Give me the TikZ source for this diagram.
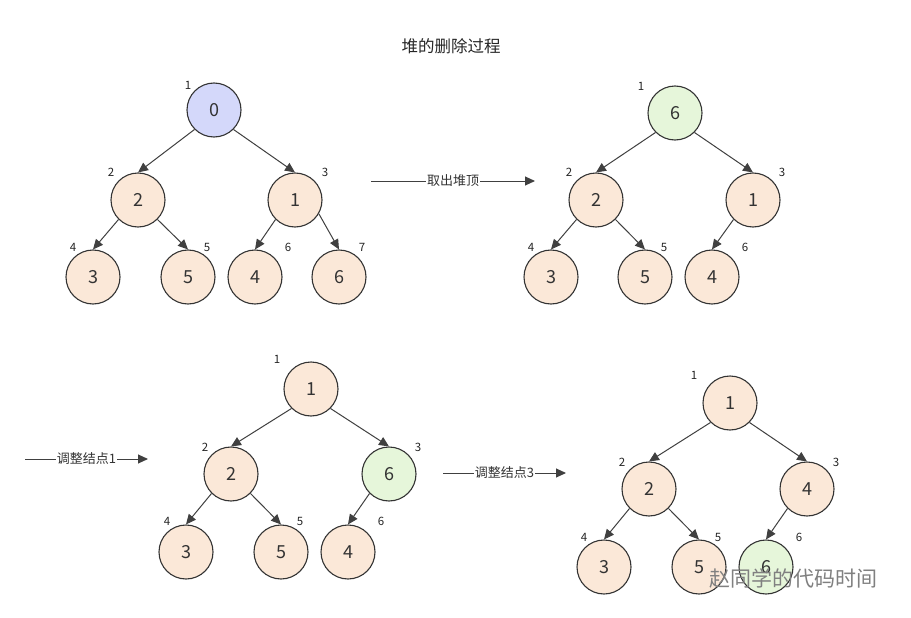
\documentclass[tikz,border=0pt]{standalone}
\usepackage{fontspec}
\setmainfont{Noto Sans CJK SC}
\usetikzlibrary{arrows.meta, positioning}
\definecolor{melocoton}{RGB}{251,232,216}
\definecolor{lavanda}{RGB}{212,216,250}
\definecolor{verdeclaro}{RGB}{230,246,218}
\tikzstyle{heapnode} = [circle, draw=black!80, fill=melocoton, minimum size=54pt, inner sep=0pt, line width=1.1pt, font=\fontsize{18}{21}\selectfont, text=black!80]
\tikzstyle{idx} = [font=\fontsize{11.5}{13}\selectfont, text=black!85, inner sep=0pt]
\tikzstyle{edge} = [draw=black!75, line width=1pt, -{Triangle[length=10pt,width=9pt]}]
\tikzstyle{paso} = [fill=white, inner sep=1pt, font=\fontsize{13}{15}\selectfont, text=black!80]

\begin{document}
\begin{tikzpicture}[x=1pt, y=-1pt]
	\useasboundingbox[fill=white] (0,0) rectangle (911,618);
	\node[font=\fontsize{16.5}{19}\selectfont, text=black!85] (titulo) at (451,46) {堆的删除过程};

	% arbol A: antes de borrar
	\node[heapnode, fill=lavanda] (a1) at (214,110) {0};
	\node[heapnode] (a2) at (138,200) {2};
	\node[heapnode] (a3) at (295,200) {1};
	\node[heapnode] (a4) at (93,277) {3};
	\node[heapnode] (a5) at (188,277) {5};
	\node[heapnode] (a6) at (255,277) {4};
	\node[heapnode] (a7) at (339,277) {6};
	\node[idx] at (188,85) {1};
	\node[idx] at (111,172) {2};
	\node[idx] at (325,172) {3};
	\node[idx] at (73,247) {4};
	\node[idx] at (207,247) {5};
	\node[idx] at (288,247) {6};
	\node[idx] at (362,247) {7};
	\draw[edge] (a1.south west) -- (a2.north);
	\draw[edge] (a1.south east) -- (a3.north);
	\draw[edge] (a2.south west) -- (a4.north);
	\draw[edge] (a2.south east) -- (a5.north);
	\draw[edge] (a3.south west) -- (a6.north);
	\draw[edge] (a3.-30) -- (a7.north);

	\coordinate (s1) at (371,181);
	\coordinate (e1) at (535,181);
	\draw[edge] (s1) -- node[paso] {取出堆顶} (e1);

	% arbol B: el ultimo sube a la raiz
	\node[heapnode, fill=verdeclaro] (b1) at (675,113) {6};
	\node[heapnode] (b2) at (596,200) {2};
	\node[heapnode] (b3) at (753,200) {1};
	\node[heapnode] (b4) at (551,277) {3};
	\node[heapnode] (b5) at (645,277) {5};
	\node[heapnode] (b6) at (712,277) {4};
	\node[idx] at (641,86) {1};
	\node[idx] at (569,172) {2};
	\node[idx] at (782,172) {3};
	\node[idx] at (531,247) {4};
	\node[idx] at (664,247) {5};
	\node[idx] at (745,247) {6};
	\draw[edge] (b1.south west) -- (b2.north);
	\draw[edge] (b1.south east) -- (b3.north);
	\draw[edge] (b2.south west) -- (b4.north);
	\draw[edge] (b2.south east) -- (b5.north);
	\draw[edge] (b3.south west) -- (b6.north);

	\coordinate (s2) at (25,459);
	\coordinate (e2) at (148,459);
	\draw[edge] (s2) -- node[paso] {调整结点1} (e2);

	% arbol C
	\node[heapnode] (c1) at (311,389) {1};
	\node[heapnode] (c2) at (231,474) {2};
	\node[heapnode, fill=verdeclaro] (c3) at (389,474) {6};
	\node[heapnode] (c4) at (186,552) {3};
	\node[heapnode] (c5) at (281,552) {5};
	\node[heapnode] (c6) at (348,552) {4};
	\node[idx] at (277,359) {1};
	\node[idx] at (205,447) {2};
	\node[idx] at (418,447) {3};
	\node[idx] at (167,521) {4};
	\node[idx] at (300,521) {5};
	\node[idx] at (381,521) {6};
	\draw[edge] (c1.south west) -- (c2.north);
	\draw[edge] (c1.south east) -- (c3.north);
	\draw[edge] (c2.south west) -- (c4.north);
	\draw[edge] (c2.south east) -- (c5.north);
	\draw[edge] (c3.south west) -- (c6.north);

	\coordinate (s3) at (443,473);
	\coordinate (e3) at (566,473);
	\draw[edge] (s3) -- node[paso] {调整结点3} (e3);

	% arbol D
	\node[heapnode] (d1) at (730,403) {1};
	\node[heapnode] (d2) at (649,489) {2};
	\node[heapnode] (d3) at (807,489) {4};
	\node[heapnode] (d4) at (604,567) {3};
	\node[heapnode] (d5) at (699,567) {5};
	\node[heapnode, fill=verdeclaro] (d6) at (766,567) {6};
	\node[idx] at (694,375) {1};
	\node[idx] at (622,462) {2};
	\node[idx] at (836,462) {3};
	\node[idx] at (584,537) {4};
	\node[idx] at (718,537) {5};
	\node[idx] at (799,537) {6};
	\draw[edge] (d1.south west) -- (d2.north);
	\draw[edge] (d1.south east) -- (d3.north);
	\draw[edge] (d2.south west) -- (d4.north);
	\draw[edge] (d2.south east) -- (d5.north);
	\draw[edge] (d3.south west) -- (d6.north);

	% marca de agua
	\node[font=\fontsize{21}{24}\selectfont, text=black!50] (marca) at (793,578) {赵同学的代码时间};
\end{tikzpicture}
\end{document}
